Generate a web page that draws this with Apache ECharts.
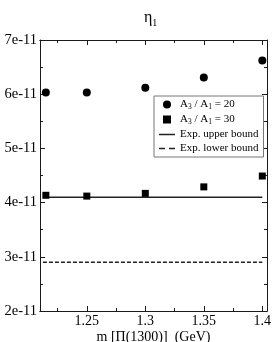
<!DOCTYPE html>
<html>
<head>
<meta charset="utf-8">
<script src="https://cdn.jsdelivr.net/npm/echarts@6/dist/echarts.min.js"></script>
<style>html,body{margin:0;padding:0;background:#fff}#c{width:273px;height:342px}</style>
</head>
<body>
<div id="c"></div>
<script>
// ---- data ----
const massValues = [1.215, 1.25, 1.3, 1.35, 1.4];
const ratio20 = [6.03e-11, 6.03e-11, 6.12e-11, 6.31e-11, 6.62e-11];
const ratio30 = [4.135e-11, 4.12e-11, 4.17e-11, 4.29e-11, 4.49e-11];
const boundX = [1.2125, 1.4];
const upperBound = 4.1e-11;
const lowerBound = 2.9e-11;
const xMajorTicks = [1.25, 1.3, 1.35, 1.4];
const xMinorTicks = [1.225, 1.275, 1.325, 1.375];
const xLabels = ['1.25', '1.3', '1.35', '1.4'];
const yMin = 2e-11, yMax = 7e-11, yStep = 1e-11;
const names = ['A3 / A1 = 20', 'A3 / A1 = 30', 'Exp. upper bound', 'Exp. lower bound'];

const FONT = 'Liberation Serif';
const AX = '#1a1a1a';
const chart = echarts.init(document.getElementById('c'), null, {renderer: 'canvas'});

function xAxisDef(pos, ticks, len, labels) {
  return {
    type: 'value', position: pos, min: 1.21, max: 1.404,
    axisLine: {show: true, onZero: false, lineStyle: {color: AX, width: 1}},
    axisTick: {show: true, inside: true, length: len, customValues: ticks, lineStyle: {color: AX}},
    axisLabel: labels ? {show: true, customValues: xMajorTicks, margin: 3, color: '#000',
      fontFamily: FONT, fontSize: 14,
      formatter: v => { const i = xMajorTicks.findIndex(t => Math.abs(t - v) < 1e-6); return i >= 0 ? xLabels[i] : ''; }} : {show: false},
    splitLine: {show: false}
  };
}
function yAxisDef(pos, labels) {
  return {
    type: 'value', position: pos, min: yMin, max: yMax, interval: yStep,
    axisLine: {show: true, onZero: false, lineStyle: {color: AX, width: 1}},
    axisTick: {show: true, inside: true, length: 5, lineStyle: {color: AX}},
    minorTick: {show: true, splitNumber: 2, length: 3, lineStyle: {color: AX}},
    axisLabel: labels ? {show: true, margin: 3, color: '#000', fontFamily: FONT, fontSize: 14.5,
      formatter: v => Math.round(v / 1e-11) + 'e-11'} : {show: false},
    splitLine: {show: false}, minorSplitLine: {show: false}
  };
}

const xa0 = xAxisDef('bottom', xMajorTicks, 5, true);
xa0.name = 'm [\u03A0(1300)]  (GeV)';
xa0.nameLocation = 'middle';
xa0.nameGap = 19;
xa0.nameMoveOverlap = false;
xa0.nameTextStyle = {fontFamily: FONT, fontSize: 14, color: '#000', verticalAlign: 'top'};

const sub = {
  n: {fontFamily: FONT, fontSize: 11, color: '#000', lineHeight: 13},
  s: {fontFamily: FONT, fontSize: 7.5, color: '#000', lineHeight: 13, verticalAlign: 'bottom', padding: [3, 0, 0, 0]}
};

chart.setOption({
  animation: false,
  backgroundColor: '#fff',
  title: {
    text: '{a|\u03B7}{b|1}', left: 139, top: 3,
    textStyle: {fontWeight: 'normal', rich: {
      a: {fontFamily: FONT, fontSize: 16, fontWeight: 'normal', color: '#000', lineHeight: 20},
      b: {fontFamily: FONT, fontSize: 10, fontWeight: 'normal', color: '#000', lineHeight: 20, verticalAlign: 'bottom', padding: [6, 0, 0, 0]}
    }}
  },
  grid: {left: 40, right: 6, top: 40, bottom: 31, containLabel: false, outerBoundsMode: 'none'},
  xAxis: [
    xa0,
    xAxisDef('bottom', xMinorTicks, 3, false),
    xAxisDef('top', xMajorTicks, 5, false),
    xAxisDef('top', xMinorTicks, 3, false)
  ],
  yAxis: [yAxisDef('left', true), yAxisDef('right', false)],
  legend: {
    orient: 'vertical', left: 154, top: 96,
    padding: [3, 5, 3, 5],
    itemWidth: 16, itemHeight: 8, itemGap: 3, itemTextGap: 7,
    backgroundColor: '#fff', borderColor: '#777', borderWidth: 1, borderRadius: 0,
    data: [
      {name: names[0], icon: 'circle'},
      {name: names[1], icon: 'path://M0,0h1v1h-1z'},
      {name: names[2], icon: 'path://M0,0h16v1.5h-16z'},
      {name: names[3], icon: 'path://M0,0h6v1.5h-6zM10,0h6v1.5h-6z'}
    ],
    formatter: name => {
      if (name === names[0]) return '{n|A}{s|3}{n| / A}{s|1}{n| = 20}';
      if (name === names[1]) return '{n|A}{s|3}{n| / A}{s|1}{n| = 30}';
      return '{n|' + name + '}';
    },
    textStyle: {fontFamily: FONT, fontSize: 11, color: '#000', rich: sub}
  },
  series: [
    {name: names[0], type: 'scatter', symbol: 'circle', symbolSize: 8, itemStyle: {color: '#000', opacity: 1},
      data: massValues.map((x, i) => [x, ratio20[i]]), z: 5},
    {name: names[1], type: 'scatter', symbol: 'rect', symbolSize: 7, itemStyle: {color: '#000', opacity: 1},
      data: massValues.map((x, i) => [x, ratio30[i]]), z: 5},
    {name: names[2], type: 'line', symbol: 'none', itemStyle: {color: '#222'},
      lineStyle: {color: '#222', width: 1.5, type: 'solid'},
      data: boundX.map(x => [x, upperBound])},
    {name: names[3], type: 'line', symbol: 'none', itemStyle: {color: '#222'},
      lineStyle: {color: '#222', width: 1.5, type: [4, 2]},
      data: boundX.map(x => [x, lowerBound])}
  ]
});
</script>
</body>
</html>
